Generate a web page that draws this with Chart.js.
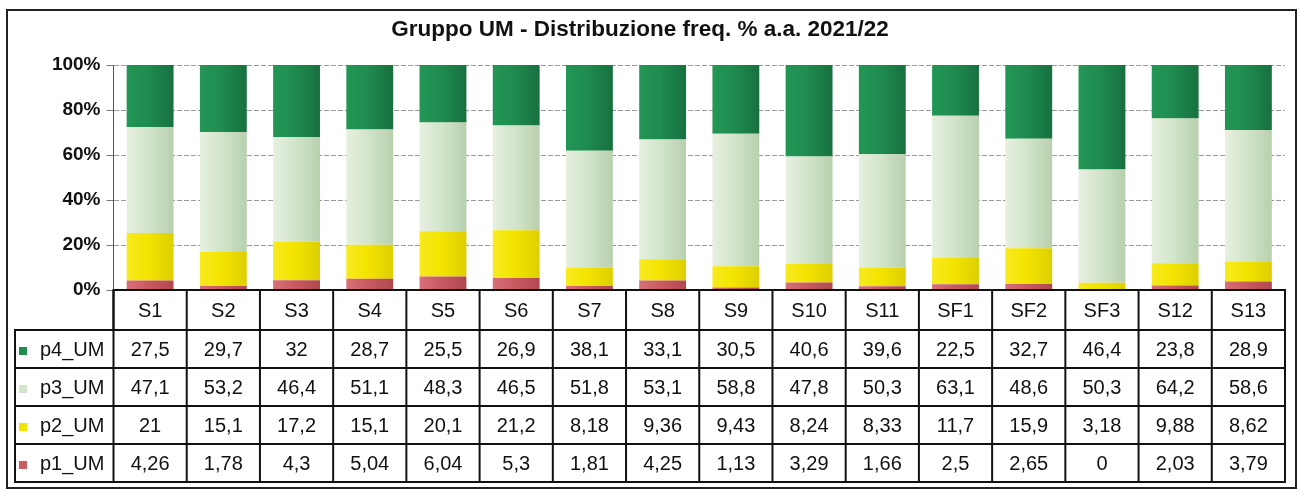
<!DOCTYPE html>
<html>
<head>
<meta charset="utf-8">
<script src="https://cdn.jsdelivr.net/npm/chart.js@4/dist/chart.umd.min.js"></script>
<style>
  body { margin: 0; background: #fff; }
  #wrap { width: 1298px; height: 492px; position: relative; }
</style>
</head>
<body>
<div id="wrap"><canvas id="myChart"></canvas></div>
<script>
const categories = ['S1', 'S2', 'S3', 'S4', 'S5', 'S6', 'S7', 'S8', 'S9', 'S10', 'S11', 'SF1', 'SF2', 'SF3', 'S12', 'S13'];
const p4 = [27.5, 29.7, 32, 28.7, 25.5, 26.9, 38.1, 33.1, 30.5, 40.6, 39.6, 22.5, 32.7, 46.4, 23.8, 28.9];
const p3 = [47.1, 53.2, 46.4, 51.1, 48.3, 46.5, 51.8, 53.1, 58.8, 47.8, 50.3, 63.1, 48.6, 50.3, 64.2, 58.6];
const p2 = [21, 15.1, 17.2, 15.1, 20.1, 21.2, 8.18, 9.36, 9.43, 8.24, 8.33, 11.7, 15.9, 3.18, 9.88, 8.62];
const p1 = [4.26, 1.78, 4.3, 5.04, 6.04, 5.3, 1.81, 4.25, 1.13, 3.29, 1.66, 2.5, 2.65, 0, 2.03, 3.79];
const yTicks = [0, 20, 40, 60, 80, 100];

const titleText = 'Gruppo UM - Distribuzione freq. % a.a. 2021/22';
const FONT = '"Liberation Sans", Arial, sans-serif';

// 100% stacking: each column scaled to its own total
const totals = categories.map((c, i) => p1[i] + p2[i] + p3[i] + p4[i]);
const pct = arr => arr.map((v, i) => v / totals[i] * 100);

// colour, plus left/mid/right shades for the cylinder look
const series = [
    { label: 'p1_UM', data: p1, color: '#c95a62', shades: ['#d77078', '#c95a62', '#b04850'] },
    { label: 'p2_UM', data: p2, color: '#f3e400', shades: ['#f7ea20', '#f3e400', '#ddcf00'] },
    { label: 'p3_UM', data: p3, color: '#d3e5cb', shades: ['#e6f0df', '#d3e5cb', '#b8d0ae'] },
    { label: 'p4_UM', data: p4, color: '#1f8c50', shades: ['#239655', '#1f8c50', '#17703f'] }
];

const fmt = v => String(v).replace('.', ',');

function barFill(s) {
    return function(context) {
        const chart = context.chart;
        const x = chart.scales.x;
        if (!chart.chartArea || !x || context.dataIndex === undefined) return s.color;
        const cx = x.getPixelForValue(context.dataIndex);
        const half = x.width / categories.length * 0.32;
        const g = chart.ctx.createLinearGradient(cx - half, 0, cx + half, 0);
        g.addColorStop(0, s.shades[0]);
        g.addColorStop(0.45, s.shades[1]);
        g.addColorStop(1, s.shades[2]);
        return g;
    };
}

const framePlugin = {
    id: 'frame',
    beforeDraw(chart) {
        const ctx = chart.ctx;
        ctx.save();
        ctx.fillStyle = '#fff';
        ctx.fillRect(0, 0, chart.width, chart.height);
        ctx.strokeStyle = '#222';
        ctx.lineWidth = 2;
        ctx.strokeRect(7, 10, 1289, 478);
        ctx.fillStyle = '#111';
        ctx.font = 'bold 22.5px ' + FONT;
        ctx.textAlign = 'center';
        ctx.textBaseline = 'middle';
        ctx.fillText(titleText, 640, 30);
        ctx.restore();
    }
};

const tablePlugin = {
    id: 'dataTable',
    afterDraw(chart) {
        const ctx = chart.ctx;
        const x = chart.scales.x;
        const area = chart.chartArea;
        const colW = (area.right - area.left) / categories.length;
        const headTop = area.bottom;
        const headBot = area.bottom + 40;
        const rowH = 38;
        const legLeft = 15;
        const rows = [series[3], series[2], series[1], series[0]];
        const tableBot = headBot + rowH * rows.length;

        ctx.save();
        ctx.strokeStyle = '#111';
        ctx.lineWidth = 2;
        ctx.strokeRect(area.left, headTop, area.right - area.left, headBot - headTop);
        ctx.strokeRect(legLeft, headBot, area.right - legLeft, tableBot - headBot);
        ctx.beginPath();
        for (let i = 0; i <= categories.length; i++) {
            const cx = area.left + i * colW;
            ctx.moveTo(cx, headTop);
            ctx.lineTo(cx, tableBot);
        }
        for (let r = 1; r < rows.length; r++) {
            ctx.moveTo(legLeft, headBot + r * rowH);
            ctx.lineTo(area.right, headBot + r * rowH);
        }
        ctx.stroke();

        ctx.fillStyle = '#111';
        ctx.font = '20px ' + FONT;
        ctx.textAlign = 'center';
        ctx.textBaseline = 'middle';
        categories.forEach((c, i) => {
            ctx.fillText(c, x.getPixelForValue(i), (headTop + headBot) / 2 + 1);
        });
        rows.forEach((s, r) => {
            const cy = headBot + r * rowH + rowH / 2 + 1;
            s.data.forEach((v, i) => {
                ctx.fillText(fmt(v), x.getPixelForValue(i), cy);
            });
            ctx.fillStyle = s.color;
            ctx.fillRect(19, cy - 3, 8, 8);
            ctx.fillStyle = '#111';
            ctx.textAlign = 'left';
            ctx.fillText(s.label, 40, cy);
            ctx.textAlign = 'center';
        });
        ctx.restore();
    }
};

const ctx = document.getElementById('myChart').getContext('2d');
const chart = new Chart(ctx, {
    type: 'bar',
    data: {
        labels: categories,
        datasets: series.map(s => ({
            label: s.label,
            data: pct(s.data),
            backgroundColor: barFill(s),
            borderWidth: 0,
            barPercentage: 0.64,
            categoryPercentage: 1
        }))
    },
    options: {
        responsive: true,
        maintainAspectRatio: false,
        animation: false,
        layout: {
            padding: { left: 0, right: 13, top: 65, bottom: 202 }
        },
        plugins: {
            legend: { display: false },
            tooltip: { enabled: false },
            title: { display: false }
        },
        scales: {
            x: {
                stacked: true,
                display: false
            },
            y: {
                stacked: true,
                min: 0,
                max: 100,
                afterFit(scale) { scale.width = 113.5; },
                afterBuildTicks(scale) { scale.ticks = yTicks.map(v => ({ value: v })); },
                ticks: {
                    padding: 6,
                    color: '#111',
                    font: { family: FONT, size: 19, weight: 'bold' },
                    callback: v => v + '%'
                },
                grid: {
                    color: '#9a9a9a',
                    tickLength: 7,
                    tickColor: '#777'
                },
                border: { display: true, color: '#555', width: 1, dash: [5, 2] }
            }
        }
    },
    plugins: [framePlugin, tablePlugin]
});
</script>
</body>
</html>
